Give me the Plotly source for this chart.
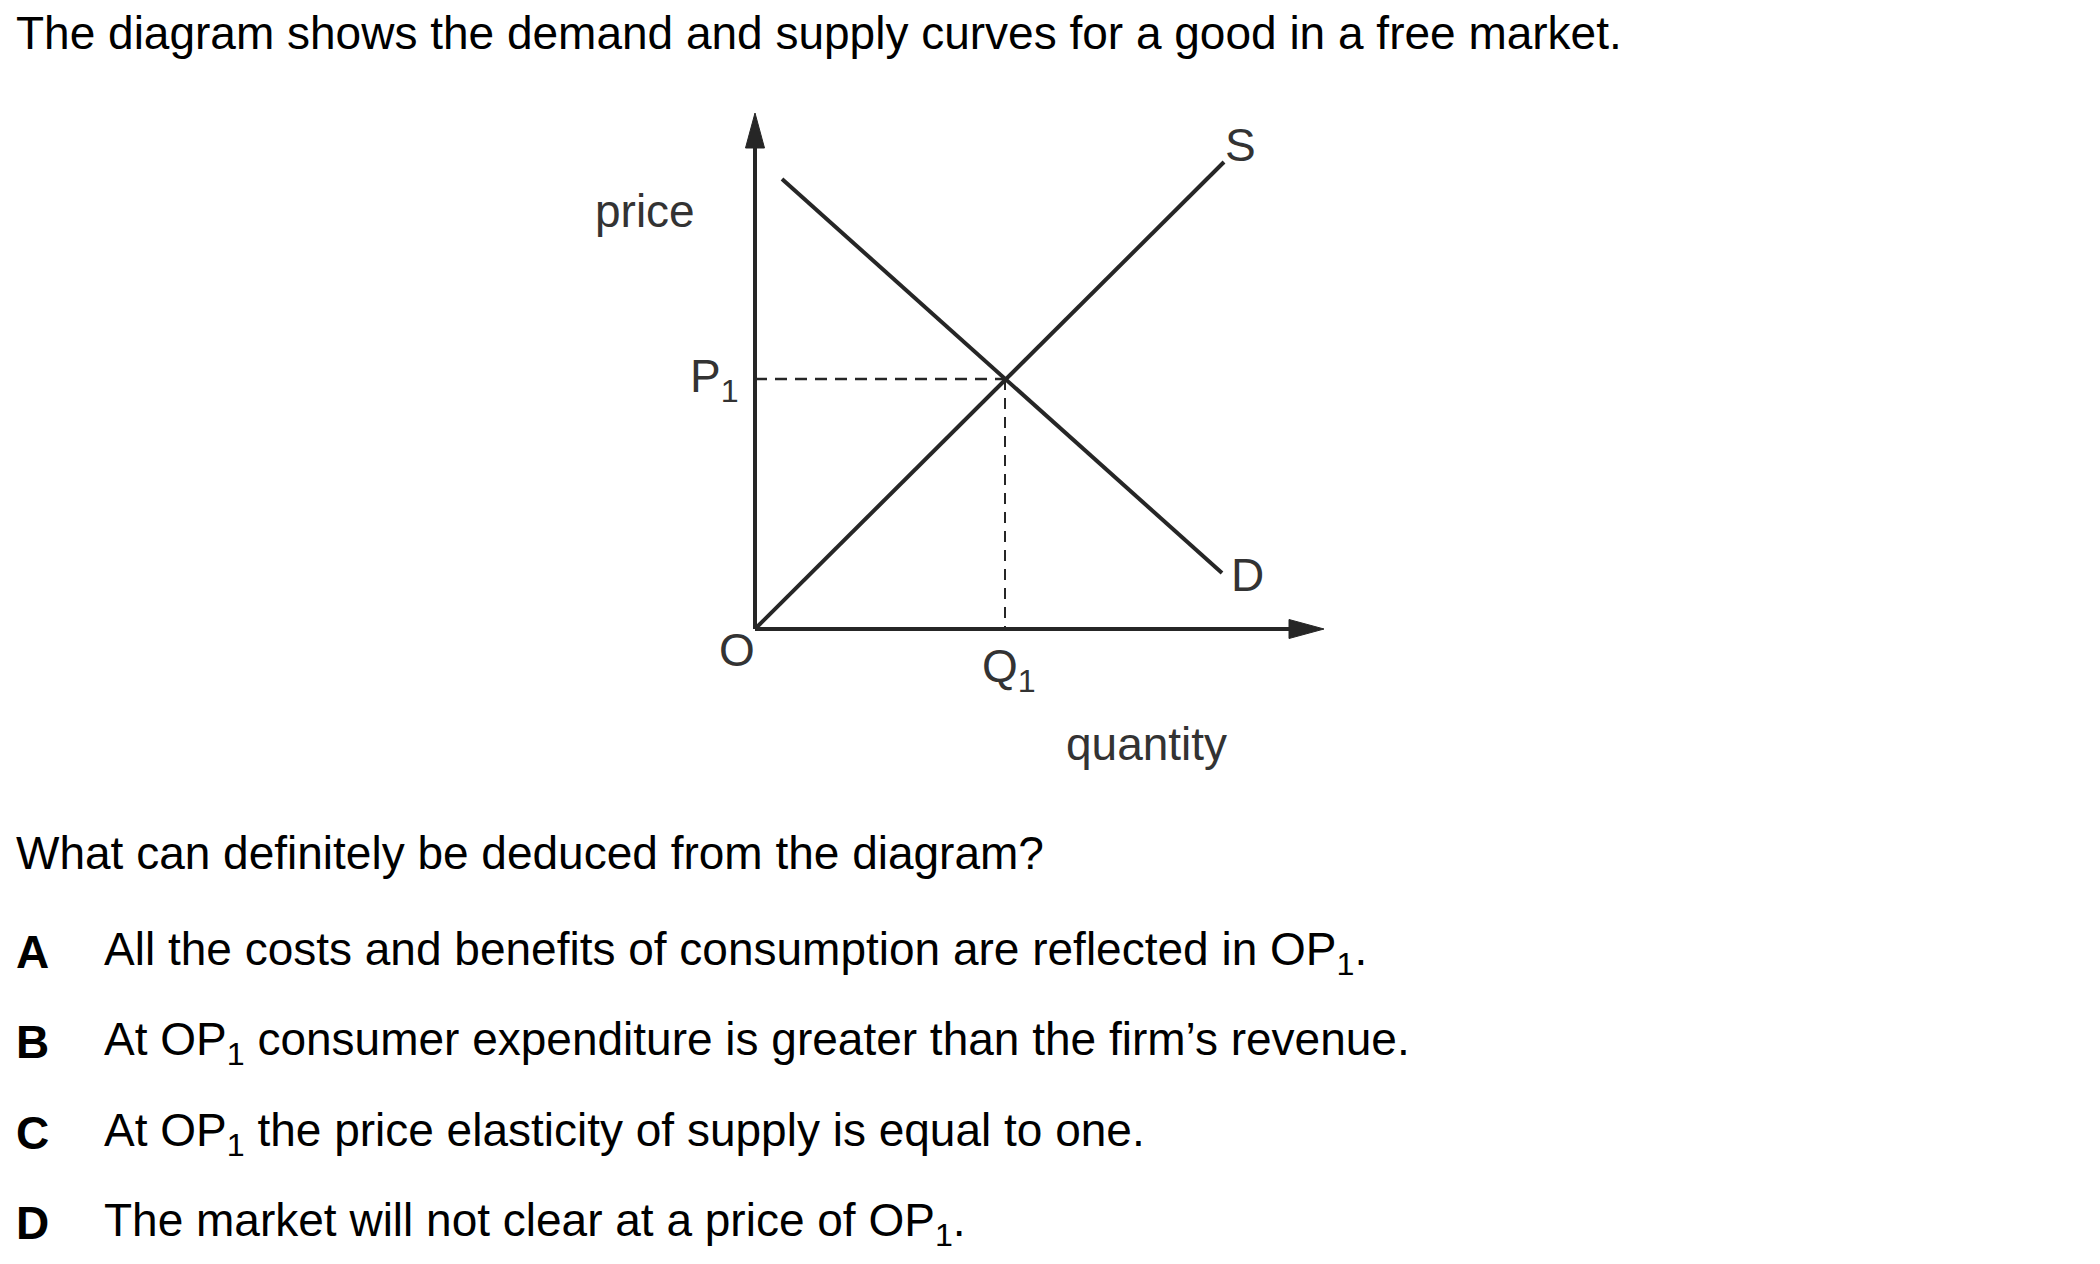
import plotly.graph_objects as go

# ---------------- data (diagram units, origin O = (0, 0)) ----------------
supply_q = [0.0, 9.38]
supply_p = [0.0, 9.34]
demand_q = [0.54, 9.34]
demand_p = [9.00, 1.12]
eq_q = 5.0          # Q1
eq_p = 5.0          # P1
x_axis_end = 11.38  # quantity axis length
y_axis_end = 10.32  # price axis length

title_text = "The diagram shows the demand and supply curves for a good in a free market."
question_text = "What can definitely be deduced from the diagram?"
option_letters = ["A", "B", "C", "D"]
option_texts = [
    "All the costs and benefits of consumption are reflected in OP<sub>1</sub>.",
    "At OP<sub>1</sub> consumer expenditure is greater than the firm\u2019s revenue.",
    "At OP<sub>1</sub> the price elasticity of supply is equal to one.",
    "The market will not clear at a price of OP<sub>1</sub>.",
]

# ---------------- layout geometry ----------------
W, H = 2084, 1248          # figure size (page body has an 8px margin)
OFF = 8
UNIT = 50.0                # px per diagram unit
ORIGIN_PX = (755 - OFF, 629 - OFF)

x_range = [-ORIGIN_PX[0] / UNIT, (W - ORIGIN_PX[0]) / UNIT]
y_range = [-(H - ORIGIN_PX[1]) / UNIT, ORIGIN_PX[1] / UNIT]

FONT = "Liberation Sans, Arial, Helvetica, sans-serif"
INK = "#262626"
LINE_W = 4
HEAD_LEN = 0.70
HEAD_HALF = 0.19


def px(xp, yp):
    """page pixel -> paper coords"""
    return (xp - OFF) / W, 1 - (yp - OFF) / H


fig = go.Figure()

# axes lines
fig.add_trace(go.Scatter(x=[0, 0], y=[0, y_axis_end - HEAD_LEN], mode="lines",
                         line=dict(color=INK, width=LINE_W), hoverinfo="skip"))
fig.add_trace(go.Scatter(x=[0, x_axis_end - HEAD_LEN], y=[0, 0], mode="lines",
                         line=dict(color=INK, width=LINE_W), hoverinfo="skip"))
# arrow heads
fig.add_trace(go.Scatter(x=[0, -HEAD_HALF, HEAD_HALF, 0],
                         y=[y_axis_end, y_axis_end - HEAD_LEN, y_axis_end - HEAD_LEN, y_axis_end],
                         mode="lines", fill="toself", fillcolor=INK,
                         line=dict(color=INK, width=1), hoverinfo="skip"))
fig.add_trace(go.Scatter(x=[x_axis_end, x_axis_end - HEAD_LEN, x_axis_end - HEAD_LEN, x_axis_end],
                         y=[0, HEAD_HALF, -HEAD_HALF, 0],
                         mode="lines", fill="toself", fillcolor=INK,
                         line=dict(color=INK, width=1), hoverinfo="skip"))

# dashed guides
fig.add_trace(go.Scatter(x=[0, eq_q], y=[eq_p, eq_p], mode="lines",
                         line=dict(color=INK, width=2.5, dash="12px,8px"), hoverinfo="skip"))
fig.add_trace(go.Scatter(x=[eq_q, eq_q], y=[eq_p, 0], mode="lines",
                         line=dict(color=INK, width=2, dash="11px,8px"), hoverinfo="skip"))

# supply & demand
fig.add_trace(go.Scatter(x=supply_q, y=supply_p, mode="lines",
                         line=dict(color=INK, width=LINE_W), hoverinfo="skip"))
fig.add_trace(go.Scatter(x=demand_q, y=demand_p, mode="lines",
                         line=dict(color=INK, width=LINE_W), hoverinfo="skip"))

ann = []
LBL = 46


def dlabel(text, x, y, xanchor="center", size=LBL):
    ann.append(dict(x=x, y=y, xref="x", yref="y", text=text, showarrow=False,
                    xanchor=xanchor, yanchor="middle",
                    font=dict(family=FONT, size=size, color="#333333")))


dlabel("price", -2.2, 8.36)
dlabel("P<sub>1</sub>", -0.28, eq_p, xanchor="right")
dlabel("S", 9.7, 9.68)
dlabel("D", 9.84, 1.08)
dlabel("O", -0.36, -0.42)
dlabel("Q<sub>1</sub>", eq_q + 0.08, -0.8)
dlabel("quantity", 7.82, -2.3)

TXT = 46


def ptext(text, xp, yp, bold=False):
    x, y = px(xp, yp)
    ann.append(dict(x=x, y=y, xref="paper", yref="paper",
                    text=("<b>%s</b>" % text) if bold else text, showarrow=False,
                    xanchor="left", yanchor="middle",
                    font=dict(family=FONT, size=TXT, color="#000000")))


ptext(title_text, 14, 33)
ptext(question_text, 14, 853)
opt_y = [952, 1042, 1133, 1223]
for letter, txt, yy in zip(option_letters, option_texts, opt_y):
    ptext(letter, 14, yy, bold=True)
    ptext(txt, 102, yy)

fig.update_layout(
    width=W, height=H,
    margin=dict(l=0, r=0, t=0, b=0),
    paper_bgcolor="white", plot_bgcolor="white",
    showlegend=False,
    xaxis=dict(range=x_range, visible=False, fixedrange=True),
    yaxis=dict(range=y_range, visible=False, fixedrange=True),
    annotations=ann,
)

fig.write_html("out.html")
